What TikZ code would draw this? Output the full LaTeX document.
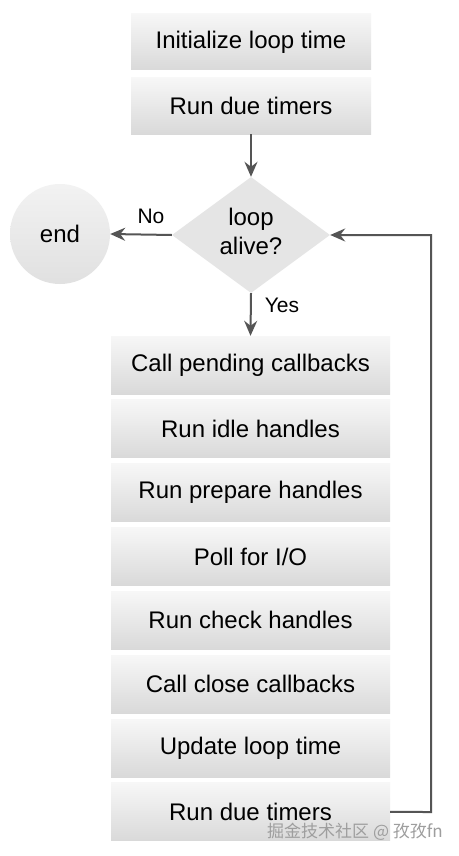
\documentclass[tikz,border=0pt]{standalone}
\usepackage{fontspec}
\setmainfont{Liberation Sans}
\newfontfamily\cjkfont{Noto Sans CJK SC}
\usetikzlibrary{shapes.geometric,arrows.meta}
\definecolor{linec}{HTML}{555555}
\definecolor{boxtop}{HTML}{F7F7F7}
\definecolor{boxbot}{HTML}{D9D9D9}
\tikzset{
  stepbox/.style={rectangle, inner sep=0pt, minimum height=56pt, top color=boxtop, bottom color=boxbot, draw=none, font=\fontsize{24}{28}\selectfont},
  topbox/.style={stepbox, minimum width=240pt},
  lowbox/.style={stepbox, minimum width=279pt, minimum height=58pt},
  flow/.style={draw=linec, line width=2pt, -{Stealth[length=15pt,width=13pt,inset=5pt]}},
  lbl/.style={font=\fontsize{21}{24}\selectfont, inner sep=0pt},
}
\begin{document}
\begin{tikzpicture}[x=1pt,y=-1pt]
\useasboundingbox (0,0) rectangle (458,856);
\fill[white] (0,0) rectangle (458,856);
\node[topbox] (init) at (251,42) {Initialize loop time};
\node[topbox] (due1) at (251,106) {Run due timers};
\node[diamond, aspect=1.36, minimum width=158pt, minimum height=116pt, inner sep=0pt, fill=black!10] (alive) at (251,235) {};
\node[align=center, font=\fontsize{24}{29}\selectfont, inner sep=0pt] (alivetxt) at (251,231) {loop\\alive?};
\node[circle, minimum size=100pt, inner sep=0pt, top color=black!5, bottom color=black!12, font=\fontsize{24}{28}\selectfont] (end) at (60,234) {end};
\foreach \n/\t [count=\i from 0] in {pend/{Call pending callbacks}, idle/{Run idle handles}, prep/{Run prepare handles}, poll/{Poll for I/O}, check/{Run check handles}, close/{Call close callbacks}, upd/{Update loop time}, due2/{Run due timers}}{
  \node[lowbox] (\n) at (250.5,{365+63.85*\i}) {\t};
}
\draw[flow] (due1.south) -- (alive.north);
\draw[flow] (alive.west) -- (end.east);
\node[lbl] (no) at (151,216) {No};
\draw[flow] (alive.south) -- (pend.north);
\node[lbl] (yes) at (282,305) {Yes};
\coordinate (c1) at (431,812);
\coordinate (c2) at (431,235);
\draw[flow] (due2.east) -- (c1) -- (c2) -- (alive.east);
\node[font=\cjkfont\fontsize{17}{20}\selectfont, text=black!38, inner sep=0pt, anchor=east] (wm) at (443,832) {掘金技术社区 @ 孜孜fn};
\end{tikzpicture}
\end{document}
